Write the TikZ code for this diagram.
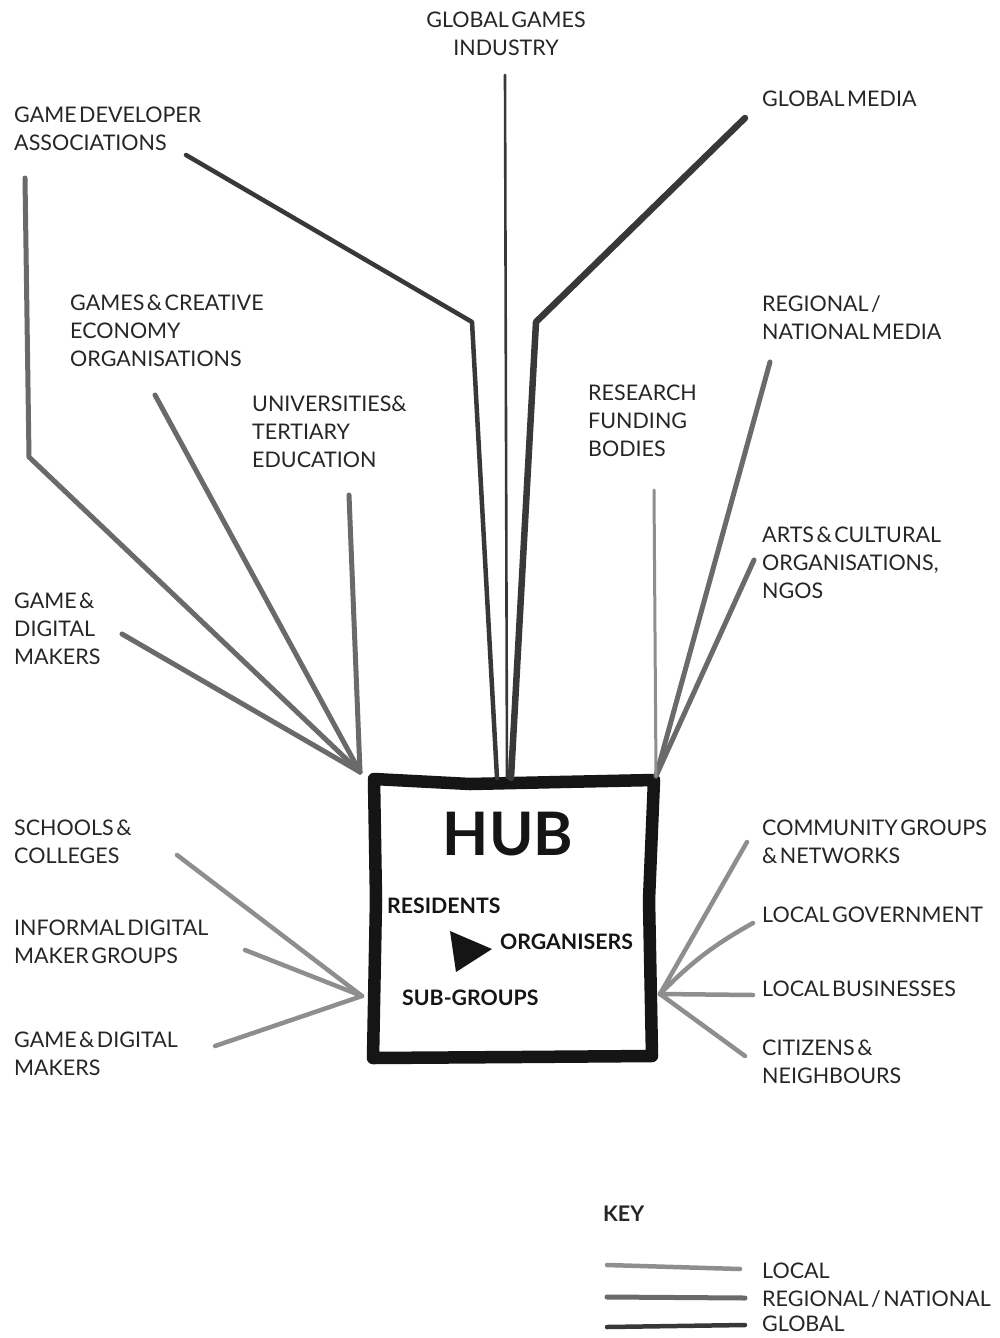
\documentclass[tikz,border=0pt]{standalone}
\usepackage{fontspec}
\setmainfont{Lato}[WordSpace=0.45]
\definecolor{txt}{HTML}{262626}
\definecolor{hubc}{HTML}{151515}
\definecolor{glob}{HTML}{383838}
\definecolor{regl}{HTML}{6A6A6A}
\definecolor{locl}{HTML}{8E8E8E}
\begin{document}
\begin{tikzpicture}[x=1pt,y=-1pt,
  lbl/.style={anchor=north west, inner sep=0, align=left, text=txt, font=\fontsize{21.5}{28}\selectfont},
  hubtxt/.style={anchor=north west, inner sep=0, text=hubc, font=\bfseries\fontsize{21.3}{24}\selectfont},
  conn/.style={line cap=round, line join=round},
  globline/.style={conn, draw=glob, line width=4.5pt},
  globthin/.style={conn, draw=glob, line width=2.6pt},
  regline/.style={conn, draw=regl, line width=5pt},
  locline/.style={conn, draw=locl, line width=4.5pt},
  locthin/.style={conn, draw=locl, line width=3pt},
  hubbox/.style={conn, draw=hubc, line width=12.5pt}
]
\useasboundingbox[fill=white] (0,0) rectangle (999,1338);

% ---------- labels ----------
\node[lbl, anchor=north, align=center] (ggi) at (506,12) {GLOBAL GAMES\\INDUSTRY};
\node[lbl] (gmed) at (762,91) {GLOBAL MEDIA};
\node[lbl] (gda) at (14,107) {GAME DEVELOPER\\ASSOCIATIONS};
\node[lbl] (gce) at (70,295) {GAMES \& CREATIVE\\ECONOMY\\ORGANISATIONS};
\node[lbl] (rnm) at (762,295) {REGIONAL /\\NATIONAL MEDIA};
\node[lbl] (uni) at (252,396) {UNIVERSITIES\&\\TERTIARY\\EDUCATION};
\node[lbl] (rfb) at (588,385) {RESEARCH\\FUNDING\\BODIES};
\node[lbl] (arts) at (762,527) {ARTS \& CULTURAL\\ORGANISATIONS,\\NGOS};
\node[lbl] (gdm) at (14,593) {GAME \&\\DIGITAL\\MAKERS};
\node[lbl] (sch) at (14,820) {SCHOOLS \&\\COLLEGES};
\node[lbl] (inf) at (14,920) {INFORMAL DIGITAL\\MAKER GROUPS};
\node[lbl] (gdm2) at (14,1032) {GAME \& DIGITAL\\MAKERS};
\node[lbl] (com) at (762,820) {COMMUNITY GROUPS\\\& NETWORKS};
\node[lbl] (lgov) at (762,907) {LOCAL GOVERNMENT};
\node[lbl] (lbus) at (762,981) {LOCAL BUSINESSES};
\node[lbl] (cit) at (762,1040) {CITIZENS \&\\NEIGHBOURS};

% ---------- hub ----------
\coordinate (b1) at (374,779);
\coordinate (b2) at (470,784);
\coordinate (b3) at (560,782);
\coordinate (b4) at (654,780);
\coordinate (b5) at (649,900);
\coordinate (b6) at (652,1056);
\coordinate (b7) at (520,1057);
\coordinate (b8) at (373,1058);
\coordinate (b9) at (376,900);
\draw[hubbox] (b1) -- (b2) -- (b3) -- (b4) -- (b5) -- (b6) -- (b7) -- (b8) -- (b9) -- cycle;
\node[anchor=north, inner sep=0, text=hubc, font=\bfseries\fontsize{60}{60}\selectfont] (hub) at (508,812) {HUB};
\node[hubtxt] (res) at (387,898) {RESIDENTS};
\node[hubtxt] (org) at (500,934) {ORGANISERS};
\node[hubtxt] (sub) at (402,990) {SUB-GROUPS};
\coordinate (t1) at (450,931);
\coordinate (t2) at (456,972);
\coordinate (t3) at (492,949);
\fill[hubc] (t1) -- (t2) -- (t3) -- cycle;

% ---------- junction points on the hub ----------
\coordinate (hTL) at (360,772);
\coordinate (hTR) at (656,776);
\coordinate (hL) at (362,996);
\coordinate (hR) at (660,994);
\coordinate (hTa) at (497,778);
\coordinate (hTb) at (507,778);
\coordinate (hTc) at (511,778);

% ---------- free ends ----------
\coordinate (ggiE) at (505,75);
\coordinate (gdaE) at (186,155);
\coordinate (gdaK) at (472,322);
\coordinate (gmedE) at (745,118);
\coordinate (gmedK) at (536,322);
\coordinate (gdaE2) at (25,178);
\coordinate (gdaK2) at (29,457);
\coordinate (gceE) at (155,395);
\coordinate (uniE) at (349,495);
\coordinate (gdmE) at (122,634);
\coordinate (rnmE) at (770,362);
\coordinate (artsE) at (754,560);
\coordinate (rfbE) at (654,490);
\coordinate (schE) at (177,855);
\coordinate (infE) at (245,950);
\coordinate (gdm2E) at (215,1046);
\coordinate (comE) at (747,842);
\coordinate (lgovE) at (753,923);
\coordinate (lbusE) at (753,995);
\coordinate (citE) at (745,1056);

% ---------- global ----------
\draw[globthin] (ggiE) -- (hTb);
\draw[globline] (gdaE) -- (gdaK) -- (hTa);
\draw[globline, line width=6.5pt] (gmedE) -- (gmedK) -- (hTc);

% ---------- regional ----------
\draw[regline] (gdaE2) -- (gdaK2) -- (hTL);
\draw[regline] (gceE) -- (hTL);
\draw[regline] (uniE) -- (hTL);
\draw[regline] (gdmE) -- (hTL);
\draw[regline] (rnmE) -- (hTR);
\draw[regline] (artsE) -- (hTR);
\draw[locthin] (rfbE) -- (hTR);

% ---------- local ----------
\draw[locline] (schE) -- (hL);
\draw[locline] (infE) -- (hL);
\draw[locline] (gdm2E) -- (hL);
\draw[locline] (comE) -- (hR);
\draw[locline] (lgovE) to[bend right=8] (hR);
\draw[locline] (lbusE) -- (hR);
\draw[locline] (citE) -- (hR);

% ---------- key ----------
\node[lbl, font=\bfseries\fontsize{21.5}{28}\selectfont] (key) at (603,1206) {KEY};
\node[lbl] (kloc) at (762,1263) {LOCAL};
\node[lbl] (kreg) at (762,1290) {REGIONAL / NATIONAL};
\node[lbl] (kglob) at (762,1316) {GLOBAL};
\coordinate (k1a) at (607,1265);
\coordinate (k1b) at (740,1269);
\coordinate (k2a) at (607,1297);
\coordinate (k2b) at (745,1298);
\coordinate (k3a) at (607,1327);
\coordinate (k3b) at (745,1325);
\draw[locline] (k1a) -- (k1b);
\draw[regline] (k2a) -- (k2b);
\draw[globline] (k3a) -- (k3b);
\end{tikzpicture}
\end{document}
